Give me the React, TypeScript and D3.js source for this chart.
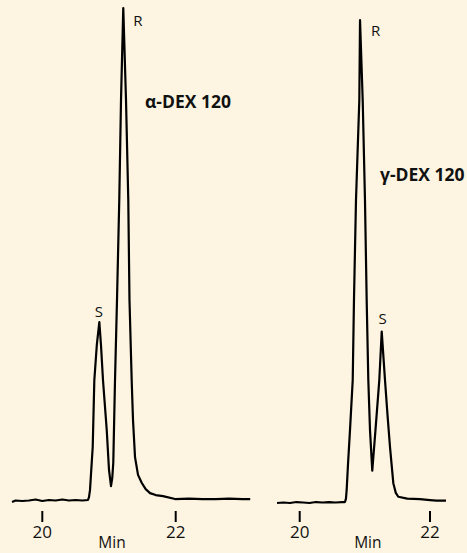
import React from "react";
import * as d3 from "d3";

// Left chromatogram (α-DEX 120): retention time (min) and relative signal
const leftTime = [19.546, 19.6, 19.7, 19.8, 19.9, 20.0, 20.1, 20.2, 20.3, 20.4, 20.5, 20.6, 20.685, 20.7, 20.715, 20.756, 20.78, 20.817, 20.855, 20.88, 20.91, 20.966, 21.0, 21.03, 21.049, 21.064, 21.09, 21.12, 21.154, 21.18, 21.214, 21.255, 21.289, 21.307, 21.34, 21.36, 21.39, 21.435, 21.49, 21.55, 21.615, 21.7, 21.81, 21.99, 22.2, 22.4, 22.6, 22.8, 23.0, 23.117];
const leftSignal = [-0.2, 0.1, 0.0, 0.1, 0.3, 0.0, 0.2, 0.1, 0.3, 0.1, 0.2, 0.1, 0.2, 0.8, 2.2, 11.0, 24.5, 31.6, 36.3, 31.6, 24.5, 14.4, 6.3, 3.0, 4.7, 7.7, 24.5, 40.8, 61.1, 81.3, 100, 81.3, 61.1, 40.8, 24.5, 16.4, 8.9, 5.3, 3.7, 2.4, 1.6, 1.2, 1.0, 0.4, 0.5, 0.4, 0.4, 0.5, 0.4, 0.4];

// Right chromatogram (γ-DEX 120)
const rightTime = [19.652, 19.75, 19.85, 19.95, 20.05, 20.15, 20.25, 20.35, 20.45, 20.55, 20.65, 20.695, 20.71, 20.721, 20.741, 20.772, 20.814, 20.833, 20.864, 20.915, 20.926, 20.967, 21.002, 21.028, 21.053, 21.079, 21.114, 21.163, 21.222, 21.259, 21.309, 21.348, 21.386, 21.437, 21.475, 21.513, 21.65, 21.846, 22.0, 22.1, 22.246];
const rightSignal = [0, 0.1, 0, 0.2, 0.1, 0, 0.2, 0.1, 0.2, 0.1, 0.2, 0.2, 0.9, 2.7, 7.9, 15.1, 25.5, 42.0, 62.7, 83.4, 100, 83.4, 62.7, 42.0, 25.5, 15.1, 6.7, 15.1, 25.5, 35.5, 25.5, 18.2, 11.6, 4.1, 2.1, 1.3, 0.9, 0.8, 0.6, 0.5, 0.5];

const tickValues = [20, 22];
const xTitle = "Min";

// Peak annotations: [time, signal]
const leftPeaks = [
  { label: "S", t: 20.855, v: 36.3 },
  { label: "R", t: 21.214, v: 100 },
];
const rightPeaks = [
  { label: "R", t: 20.926, v: 100 },
  { label: "S", t: 21.259, v: 35.5 },
];
const leftName = "α-DEX 120";
const rightName = "γ-DEX 120";

const FONT = "'Open Sans', 'Noto Sans', sans-serif";

type PanelProps = {
  time: number[];
  signal: number[];
  xRange: [number, number];
  yRange: [number, number];
  peaks: { label: string; t: number; v: number }[];
  peakOffsets: { dx: number; dy: number; anchor: string }[];
  name: string;
  namePos: [number, number];
};

function Panel({ time, signal, xRange, yRange, peaks, peakOffsets, name, namePos }: PanelProps) {
  const x = d3.scaleLinear().domain([20, 22]).range(xRange);
  const y = d3.scaleLinear().domain([0, 100]).range(yRange);
  const pts: [number, number][] = time.map((t, i) => [t, signal[i]]);
  const line = d3
    .line<[number, number]>()
    .x((d) => x(d[0]))
    .y((d) => y(d[1]))
    .curve(d3.curveLinear);
  const tickTop = 511;
  const tickBottom = 522;
  return (
    <g>
      <path d={line(pts) || ""} fill="none" stroke="#000" strokeWidth={2.2} strokeLinejoin="round" />
      {tickValues.map((tv) => (
        <g key={tv}>
          <line x1={x(tv)} x2={x(tv)} y1={tickTop} y2={tickBottom} stroke="#000" strokeWidth={2} />
          <text x={x(tv)} y={538} textAnchor="middle" fontSize={17} fontFamily={FONT} fill="#111">
            {tv}
          </text>
        </g>
      ))}
      <text x={(x(20) + x(22)) / 2 + 3} y={548} textAnchor="middle" fontSize={15.5} fontFamily={FONT} fill="#111">
        {xTitle}
      </text>
      {peaks.map((p, i) => (
        <text
          key={i}
          x={x(p.t) + peakOffsets[i].dx}
          y={y(p.v) + peakOffsets[i].dy}
          textAnchor={peakOffsets[i].anchor as any}
          fontSize={15}
          fontFamily={FONT}
          fill="#111"
        >
          {p.label}
        </text>
      ))}
      <text x={namePos[0]} y={namePos[1]} fontSize={17.5} fontWeight="bold" fontFamily={FONT} fill="#111">
        {name}
      </text>
    </g>
  );
}

export default function App() {
  return (
    <svg
      width={467}
      height={553}
      style={{ position: "absolute", left: 0, top: 0, display: "block", background: "#FDF5E1" }}
    >
      <rect x={0} y={0} width={467} height={553} fill="#FDF5E1" />
      <Panel
        time={leftTime}
        signal={leftSignal}
        xRange={[42.3, 175.7]}
        yRange={[501, 8]}
        peaks={leftPeaks}
        peakOffsets={[
          { dx: -0.5, dy: -5, anchor: "middle" },
          { dx: 10, dy: 18, anchor: "start" },
        ]}
        name={leftName}
        namePos={[145, 108]}
      />
      <Panel
        time={rightTime}
        signal={rightSignal}
        xRange={[299.7, 430]}
        yRange={[503, 20]}
        peaks={rightPeaks}
        peakOffsets={[
          { dx: 11, dy: 16, anchor: "start" },
          { dx: 1, dy: -8, anchor: "middle" },
        ]}
        name={rightName}
        namePos={[380, 181]}
      />
    </svg>
  );
}
